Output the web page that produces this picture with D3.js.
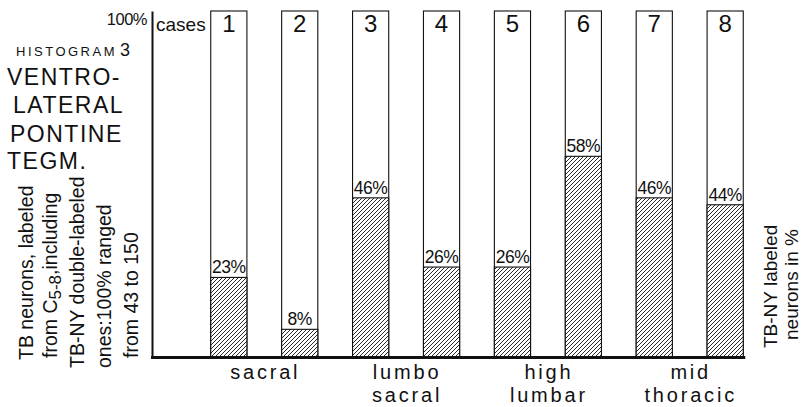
<!DOCTYPE html>
<html><head><meta charset="utf-8">
<script src="https://cdn.jsdelivr.net/npm/d3@7"></script>
<style>
body{margin:0;background:#fff;}
svg text{font-family:"Liberation Sans",Arial,Helvetica,sans-serif;fill:#111;}
</style></head>
<body><div id="chart"></div>
<script>
const cases = ["1","2","3","4","5","6","7","8"];
const values = [23, 8, 46, 26, 26, 58, 46, 44];
const groupLabels = [["sacral"], ["lumbo","sacral"], ["high","lumbar"], ["mid","thoracic"]];
const titleLines = ["VENTRO-", "LATERAL", "PONTINE", "TEGM."];
const yMaxLabel = "100%";

const W = 803, H = 407;
const svg = d3.select("#chart").append("svg").attr("width", W).attr("height", H);

const defs = svg.append("defs");
const pat = defs.append("pattern").attr("id","hatch").attr("patternUnits","userSpaceOnUse")
  .attr("width",4).attr("height",4);
pat.append("rect").attr("width",4).attr("height",4).attr("fill","#fff");
pat.append("path").attr("d","M-1,1 l2,-2 M0,4 l4,-4 M3,5 l2,-2")
  .attr("stroke","#111").attr("stroke-width",0.9);

const x = d3.scaleBand().domain(cases).range([176, 778]).padding(0.49);
const y = d3.scaleLinear().domain([0,100]).range([357, 11]);
const bw = x.bandwidth();

// y axis line
const axisY = d3.axisLeft(y).tickValues([]).tickSize(0);
svg.append("g").attr("transform","translate(152,0)").call(axisY)
  .call(g => g.select(".domain").attr("stroke","#111").attr("stroke-width",2));

// empty boxes (100%)
svg.selectAll("rect.box").data(cases).join("rect").attr("class","box")
  .attr("x", d => x(d)).attr("y", y(100)).attr("width", bw).attr("height", y(0)-y(100))
  .attr("fill","#fff").attr("stroke","#111").attr("stroke-width",1.1);

// hatched bars
svg.selectAll("rect.bar").data(values).join("rect").attr("class","bar")
  .attr("x", (d,i) => x(cases[i])).attr("y", d => y(d)).attr("width", bw)
  .attr("height", d => y(0)-y(d))
  .attr("fill","url(#hatch)").attr("stroke","#111").attr("stroke-width",1.1);

// baseline
svg.append("line").attr("x1",151).attr("x2", x(cases[7])+bw+2)
  .attr("y1", y(0)+0.5).attr("y2", y(0)+0.5).attr("stroke","#111").attr("stroke-width",3);

// value labels
svg.selectAll("text.val").data(values).join("text").attr("class","val")
  .attr("x", (d,i) => x(cases[i]) + bw/2).attr("y", d => y(d) - 4)
  .attr("text-anchor","middle").attr("font-size",17.5).attr("letter-spacing","-0.5")
  .text(d => d + "%");

// case numbers
svg.selectAll("text.case").data(cases).join("text").attr("class","case")
  .attr("x", d => x(d) + bw/2).attr("y", 32)
  .attr("text-anchor","middle").attr("font-size",24).text(d => d);

svg.append("text").attr("x",156).attr("y",31).attr("font-size",19).text("cases");
svg.append("text").attr("x",147).attr("y",25).attr("text-anchor","end")
  .attr("font-size",16.5).attr("letter-spacing","-0.5").text(yMaxLabel);

// group labels
groupLabels.forEach((lines,i) => {
  const cx = x(cases[2*i]) + bw/2 + x.step()/2 + 1;
  lines.forEach((s,j) => {
    svg.append("text").attr("x", cx).attr("y", 379 + j*23)
      .attr("text-anchor","middle").attr("font-size",20).attr("letter-spacing","2.8").text(s);
  });
});

// title block
const hist = svg.append("text").attr("x",16).attr("y",56);
hist.append("tspan").attr("font-size",13).attr("letter-spacing","2.5").text("HISTOGRAM");
hist.append("tspan").attr("font-size",18).attr("dx",3).text("3");
const tx = [7, 13, 10, 7], ty = [85, 113, 142, 169];
titleLines.forEach((t,i) => {
  svg.append("text").attr("x",tx[i]).attr("y",ty[i]).attr("font-size",23)
    .attr("letter-spacing","1.5").text(t);
});

// left rotated notes
function vtext(bx, by, parts, fs){
  const t = svg.append("text").attr("transform",`translate(${bx},${by}) rotate(-90)`)
    .attr("font-size",fs || 19.5);
  parts.forEach(p => {
    const s = t.append("tspan").text(p.t);
    if (p.dy) s.attr("dy", p.dy);
    if (p.fs) s.attr("font-size", p.fs);
  });
}
vtext(33, 360, [{t:"TB neurons, labeled"}]);
vtext(57, 358, [{t:"from C"},{t:"5-8",dy:4,fs:17},{t:",including",dy:-4}]);
vtext(84, 368, [{t:"TB-NY double-labeled"}]);
vtext(111, 368, [{t:"ones:100% ranged"}]);
vtext(138, 358, [{t:"from  43  to  150"}]);

// right rotated notes
vtext(777, 348, [{t:"TB-NY labeled"}], 19);
vtext(798, 340, [{t:"neurons in %"}], 19);
</script></body></html>
